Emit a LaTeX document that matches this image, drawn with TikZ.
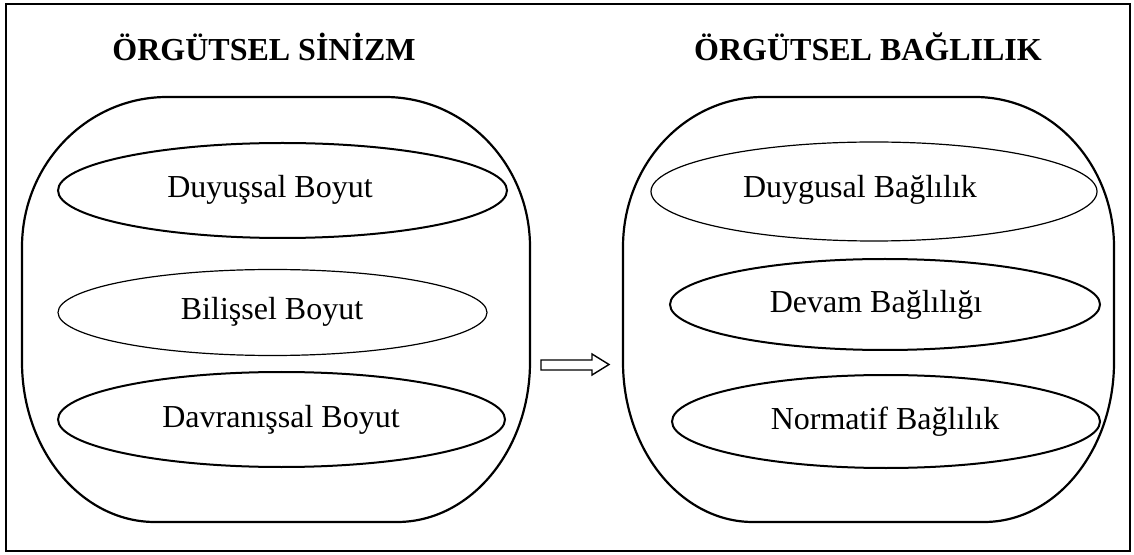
\documentclass[tikz,border=0pt]{standalone}
\usepackage{fontspec}
\setmainfont{Liberation Serif}
\usetikzlibrary{shapes.geometric}
\begin{document}
\begin{tikzpicture}[x=0.5pt,y=-0.5pt,
  txt/.style={font=\fontsize{16}{19}\selectfont, inner sep=0pt},
  ttl/.style={font=\fontsize{16}{19}\selectfont\bfseries, inner sep=0pt},
  elthick/.style={draw, ellipse, line width=1pt, inner sep=0pt, font=\fontsize{16}{19}\selectfont},
  elthin/.style={draw, ellipse, line width=0.6pt, inner sep=0pt, font=\fontsize{16}{19}\selectfont},
  cont/.style={draw, line width=1.1pt},
  frame/.style={draw, line width=1.2pt}]
\useasboundingbox (0,0) rectangle (1134,555);
\draw[frame] (6,4) rectangle (1130,551);
% titles
\node[ttl] (t1) at (264,47) {ÖRGÜTSEL SİNİZM};
\node[ttl] (t2) at (868,47) {ÖRGÜTSEL BAĞLILIK};
% left container
\draw[cont] (167,97) -- (385,97) .. controls (465,97) and (530,164.2) .. (530,247)
  -- (530,362) .. controls (530,450.3) and (470.4,522) .. (397,522)
  -- (155,522) .. controls (81.6,522) and (22,450.3) .. (22,362)
  -- (22,247) .. controls (22,164.2) and (87,97) .. (167,97) -- cycle;
% right container
\draw[cont] (763,97) -- (975,97) .. controls (1052,97) and (1114,164.2) .. (1114,247)
  -- (1114,362) .. controls (1114,450.3) and (1055.8,522) .. (984,522)
  -- (753,522) .. controls (681.2,522) and (623,450.3) .. (623,362)
  -- (623,247) .. controls (623,164.2) and (685.7,97) .. (763,97) -- cycle;
% left ellipses
\node[elthick, minimum width=224.5pt, minimum height=47.5pt] (e1) at (282.5,190.5) {};
\node[txt] (l1) at (270,190) {Duyuşsal Boyut};
\node[elthin, minimum width=214.5pt, minimum height=43pt] (e2) at (272.5,312.5) {};
\node[txt] (l2) at (272,312) {Bilişsel Boyut};
\node[elthick, minimum width=223.5pt, minimum height=47.5pt] (e3) at (281.5,419.5) {};
\node[txt] (l3) at (281,420) {Davranışsal Boyut};
% right ellipses
\node[elthin, minimum width=223pt, minimum height=49.5pt] (r1) at (874,191.5) {};
\node[txt] (m1) at (860,190) {Duygusal Bağlılık};
\node[elthick, minimum width=215pt, minimum height=45.5pt] (r2) at (885,304.5) {};
\node[txt] (m2) at (876,305) {Devam Bağlılığı};
\node[elthick, minimum width=214pt, minimum height=46.5pt] (r3) at (886,421.5) {};
\node[txt] (m3) at (885,422) {Normatif Bağlılık};
% block arrow
\draw[line width=0.7pt, line join=miter] (541,360) -- (592,360) -- (592,354) -- (609,364.5)
  -- (592,375) -- (592,370) -- (541,370) -- cycle;
\end{tikzpicture}
\end{document}
